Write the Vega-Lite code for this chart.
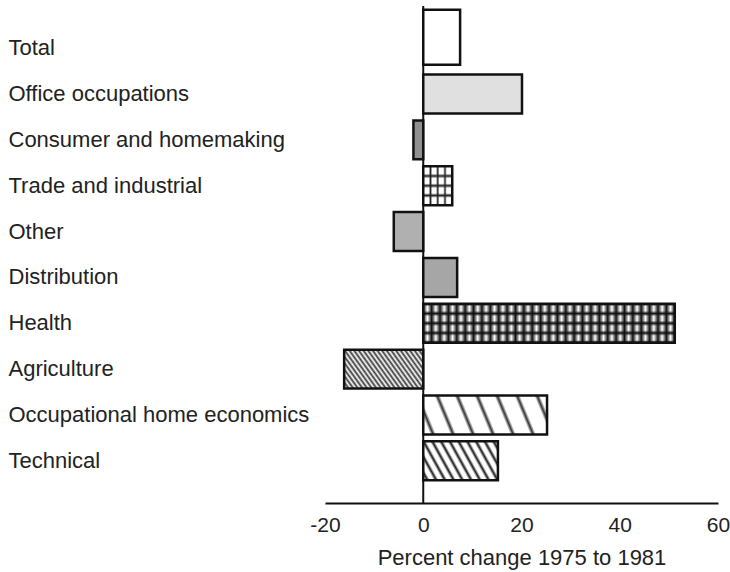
{
"$schema":"https://vega.github.io/schema/vega-lite/v6.json",
"width":393,"height":497,
"autosize":"none",
"padding":{"left":325,"top":6,"right":12,"bottom":69},
"background":"white",
"config":{"view":{"stroke":null},"font":"Liberation Sans"},
"data":{"values":[
{"category":"Total","change":7.5},
{"category":"Office occupations","change":20.1},
{"category":"Consumer and homemaking","change":-2},
{"category":"Trade and industrial","change":5.9},
{"category":"Other","change":-6},
{"category":"Distribution","change":6.9},
{"category":"Health","change":51.2},
{"category":"Agriculture","change":-16.1},
{"category":"Occupational home economics","change":25.2},
{"category":"Technical","change":15.2}
]},
"layer":[
{"transform":[{"filter":"datum.category === 'Total'"}],
 "mark":{"type":"rule","color":"#111","strokeWidth":2},
 "encoding":{"x":{"datum":0,"type":"quantitative","scale":{"domain":[-20,60],"nice":false},
       "axis":{"values":[-20,0,20,40,60],"ticks":false,"grid":false,"domainColor":"#111","domainWidth":2,"labelFontSize":21,"labelColor":"#222","labelPadding":11,"labelExpr":"'' + datum.value","labelFlush":false,"labelOverlap":false,"title":"Percent change 1975 to 1981","titleFontSize":22,"titleFontWeight":"normal","titleColor":"#222","titlePadding":12,"titleFont":"Liberation Sans"}}}},
{"encoding":{
  "y":{"field":"category","type":"nominal","sort":null,"scale":{"domain":["Total","Office occupations","Consumer and homemaking","Trade and industrial","Other","Distribution","Health","Agriculture","Occupational home economics","Technical"],"paddingInner":0.15,"paddingOuter":0.495},
       "axis":{"title":null,"domain":false,"ticks":false,"labelAlign":"left","labelPadding":317,"labelFontSize":22,"labelColor":"#222","labelLimit":400,"labelFont":"Liberation Sans"}},
  "x":{"field":"change","type":"quantitative","scale":{"domain":[-20,60],"nice":false},
       "axis":{"values":[-20,0,20,40,60],"ticks":false,"grid":false,"domainColor":"#111","domainWidth":2,"labelFontSize":21,"labelColor":"#222","labelPadding":11,"labelExpr":"'' + datum.value","labelFlush":false,"labelOverlap":false,"title":"Percent change 1975 to 1981","titleFontSize":22,"titleFontWeight":"normal","titleColor":"#222","titlePadding":12,"titleFont":"Liberation Sans"}}},
 "layer":[
  {"transform":[{"filter":"datum.category !== 'Total'"}],
   "mark":{"type":"bar"},
   "encoding":{"fill":{"field":"category","type":"nominal","legend":null,
     "scale":{"domain":["Office occupations","Consumer and homemaking","Trade and industrial","Other","Distribution","Health","Agriculture","Occupational home economics","Technical"],
              "range":["#e0e0e0","#909090","#ffffff","#b0b0b0","#a6a6a6","#ffffff","#ffffff","#ffffff","#ffffff"]}}}},
  {"transform":[{"filter":"datum.category === 'Technical'"}],
   "mark":{"type":"bar","fill":{"gradient":"linear","x1":-0.267,"y1":0.077,"x2":0.923,"y2":-0.267,"stops":[
     {"offset":0,"color":"#ffffff"},
     {"offset":0.0182,"color":"#ffffff"},{"offset":0.0455,"color":"#1a1a1a"},{"offset":0.0727,"color":"#ffffff"},
     {"offset":0.1091,"color":"#ffffff"},{"offset":0.1364,"color":"#1a1a1a"},{"offset":0.1636,"color":"#ffffff"},
     {"offset":0.2,"color":"#ffffff"},{"offset":0.2273,"color":"#1a1a1a"},{"offset":0.2545,"color":"#ffffff"},
     {"offset":0.2909,"color":"#ffffff"},{"offset":0.3182,"color":"#1a1a1a"},{"offset":0.3455,"color":"#ffffff"},
     {"offset":0.3818,"color":"#ffffff"},{"offset":0.4091,"color":"#1a1a1a"},{"offset":0.4364,"color":"#ffffff"},
     {"offset":0.4727,"color":"#ffffff"},{"offset":0.5,"color":"#1a1a1a"},{"offset":0.5273,"color":"#ffffff"},
     {"offset":0.5636,"color":"#ffffff"},{"offset":0.5909,"color":"#1a1a1a"},{"offset":0.6182,"color":"#ffffff"},
     {"offset":0.6545,"color":"#ffffff"},{"offset":0.6818,"color":"#1a1a1a"},{"offset":0.7091,"color":"#ffffff"},
     {"offset":0.7455,"color":"#ffffff"},{"offset":0.7727,"color":"#1a1a1a"},{"offset":0.8,"color":"#ffffff"},
     {"offset":0.8364,"color":"#ffffff"},{"offset":0.8636,"color":"#1a1a1a"},{"offset":0.8909,"color":"#ffffff"},
     {"offset":0.9273,"color":"#ffffff"},{"offset":0.9545,"color":"#1a1a1a"},{"offset":0.9818,"color":"#ffffff"},
     {"offset":1,"color":"#ffffff"}]}}},
  {"transform":[{"filter":"datum.category === 'Occupational home economics'"}],
   "mark":{"type":"bar","fill":{"gradient":"linear","x1":-0.1283,"y1":0.0167,"x2":0.9833,"y2":-0.1283,"stops":[
     {"offset":0,"color":"#ffffff"},
     {"offset":0.05,"color":"#ffffff"},{"offset":0.0714,"color":"#333333"},{"offset":0.0929,"color":"#ffffff"},
     {"offset":0.1929,"color":"#ffffff"},{"offset":0.2143,"color":"#333333"},{"offset":0.2357,"color":"#ffffff"},
     {"offset":0.3357,"color":"#ffffff"},{"offset":0.3571,"color":"#333333"},{"offset":0.3786,"color":"#ffffff"},
     {"offset":0.4786,"color":"#ffffff"},{"offset":0.5,"color":"#333333"},{"offset":0.5214,"color":"#ffffff"},
     {"offset":0.6214,"color":"#ffffff"},{"offset":0.6429,"color":"#333333"},{"offset":0.6643,"color":"#ffffff"},
     {"offset":0.7643,"color":"#ffffff"},{"offset":0.7857,"color":"#333333"},{"offset":0.8071,"color":"#ffffff"},
     {"offset":0.9071,"color":"#ffffff"},{"offset":0.9286,"color":"#333333"},{"offset":0.95,"color":"#ffffff"},
     {"offset":1,"color":"#ffffff"}]}}},
  {"transform":[{"filter":"datum.category === 'Agriculture'"}],
   "mark":{"type":"bar","fill":{"gradient":"linear","x1":-0.3136,"y1":0.1106,"x2":0.8894,"y2":-0.3136,"stops":[
     {"offset":0,"color":"#3a3a3a"},{"offset":0.0217,"color":"#ffffff"},{"offset":0.0435,"color":"#3a3a3a"},{"offset":0.0652,"color":"#ffffff"},
     {"offset":0.087,"color":"#3a3a3a"},{"offset":0.1087,"color":"#ffffff"},{"offset":0.1304,"color":"#3a3a3a"},{"offset":0.1522,"color":"#ffffff"},
     {"offset":0.1739,"color":"#3a3a3a"},{"offset":0.1957,"color":"#ffffff"},{"offset":0.2174,"color":"#3a3a3a"},{"offset":0.2391,"color":"#ffffff"},
     {"offset":0.2609,"color":"#3a3a3a"},{"offset":0.2826,"color":"#ffffff"},{"offset":0.3043,"color":"#3a3a3a"},{"offset":0.3261,"color":"#ffffff"},
     {"offset":0.3478,"color":"#3a3a3a"},{"offset":0.3696,"color":"#ffffff"},{"offset":0.3913,"color":"#3a3a3a"},{"offset":0.413,"color":"#ffffff"},
     {"offset":0.4348,"color":"#3a3a3a"},{"offset":0.4565,"color":"#ffffff"},{"offset":0.4783,"color":"#3a3a3a"},{"offset":0.5,"color":"#ffffff"},
     {"offset":0.5217,"color":"#3a3a3a"},{"offset":0.5435,"color":"#ffffff"},{"offset":0.5652,"color":"#3a3a3a"},{"offset":0.587,"color":"#ffffff"},
     {"offset":0.6087,"color":"#3a3a3a"},{"offset":0.6304,"color":"#ffffff"},{"offset":0.6522,"color":"#3a3a3a"},{"offset":0.6739,"color":"#ffffff"},
     {"offset":0.6957,"color":"#3a3a3a"},{"offset":0.7174,"color":"#ffffff"},{"offset":0.7391,"color":"#3a3a3a"},{"offset":0.7609,"color":"#ffffff"},
     {"offset":0.7826,"color":"#3a3a3a"},{"offset":0.8043,"color":"#ffffff"},{"offset":0.8261,"color":"#3a3a3a"},{"offset":0.8478,"color":"#ffffff"},
     {"offset":0.8696,"color":"#3a3a3a"},{"offset":0.8913,"color":"#ffffff"},{"offset":0.913,"color":"#3a3a3a"},{"offset":0.9348,"color":"#ffffff"},
     {"offset":0.9565,"color":"#3a3a3a"},{"offset":0.9783,"color":"#ffffff"},{"offset":1,"color":"#3a3a3a"}]}}},
  {"transform":[{"filter":"datum.category === 'Health'"}],
   "mark":{"type":"bar","fill":{"gradient":"linear","x1":0,"y1":0,"x2":1,"y2":0,"stops":[
     {"offset":0,"color":"#111111"},{"offset":0.0167,"color":"#ffffff"},{"offset":0.0333,"color":"#111111"},{"offset":0.05,"color":"#ffffff"},
     {"offset":0.0667,"color":"#111111"},{"offset":0.0833,"color":"#ffffff"},{"offset":0.1,"color":"#111111"},{"offset":0.1167,"color":"#ffffff"},
     {"offset":0.1333,"color":"#111111"},{"offset":0.15,"color":"#ffffff"},{"offset":0.1667,"color":"#111111"},{"offset":0.1833,"color":"#ffffff"},
     {"offset":0.2,"color":"#111111"},{"offset":0.2167,"color":"#ffffff"},{"offset":0.2333,"color":"#111111"},{"offset":0.25,"color":"#ffffff"},
     {"offset":0.2667,"color":"#111111"},{"offset":0.2833,"color":"#ffffff"},{"offset":0.3,"color":"#111111"},{"offset":0.3167,"color":"#ffffff"},
     {"offset":0.3333,"color":"#111111"},{"offset":0.35,"color":"#ffffff"},{"offset":0.3667,"color":"#111111"},{"offset":0.3833,"color":"#ffffff"},
     {"offset":0.4,"color":"#111111"},{"offset":0.4167,"color":"#ffffff"},{"offset":0.4333,"color":"#111111"},{"offset":0.45,"color":"#ffffff"},
     {"offset":0.4667,"color":"#111111"},{"offset":0.4833,"color":"#ffffff"},{"offset":0.5,"color":"#111111"},{"offset":0.5167,"color":"#ffffff"},
     {"offset":0.5333,"color":"#111111"},{"offset":0.55,"color":"#ffffff"},{"offset":0.5667,"color":"#111111"},{"offset":0.5833,"color":"#ffffff"},
     {"offset":0.6,"color":"#111111"},{"offset":0.6167,"color":"#ffffff"},{"offset":0.6333,"color":"#111111"},{"offset":0.65,"color":"#ffffff"},
     {"offset":0.6667,"color":"#111111"},{"offset":0.6833,"color":"#ffffff"},{"offset":0.7,"color":"#111111"},{"offset":0.7167,"color":"#ffffff"},
     {"offset":0.7333,"color":"#111111"},{"offset":0.75,"color":"#ffffff"},{"offset":0.7667,"color":"#111111"},{"offset":0.7833,"color":"#ffffff"},
     {"offset":0.8,"color":"#111111"},{"offset":0.8167,"color":"#ffffff"},{"offset":0.8333,"color":"#111111"},{"offset":0.85,"color":"#ffffff"},
     {"offset":0.8667,"color":"#111111"},{"offset":0.8833,"color":"#ffffff"},{"offset":0.9,"color":"#111111"},{"offset":0.9167,"color":"#ffffff"},
     {"offset":0.9333,"color":"#111111"},{"offset":0.95,"color":"#ffffff"},{"offset":0.9667,"color":"#111111"},{"offset":0.9833,"color":"#ffffff"},
     {"offset":1,"color":"#111111"}]}}},
  {"transform":[{"filter":"datum.category === 'Health'"}],
   "mark":{"type":"bar","fill":{"gradient":"linear","x1":0,"y1":0,"x2":0,"y2":1,"stops":[
     {"offset":0,"color":"rgba(17,17,17,1)"},{"offset":0.07,"color":"rgba(17,17,17,0)"},{"offset":0.18,"color":"rgba(17,17,17,0)"},
     {"offset":0.25,"color":"rgba(17,17,17,1)"},{"offset":0.32,"color":"rgba(17,17,17,0)"},{"offset":0.43,"color":"rgba(17,17,17,0)"},
     {"offset":0.5,"color":"rgba(17,17,17,1)"},{"offset":0.57,"color":"rgba(17,17,17,0)"},{"offset":0.68,"color":"rgba(17,17,17,0)"},
     {"offset":0.75,"color":"rgba(17,17,17,1)"},{"offset":0.82,"color":"rgba(17,17,17,0)"},{"offset":0.93,"color":"rgba(17,17,17,0)"},
     {"offset":1,"color":"rgba(17,17,17,1)"}]}}},
  {"transform":[{"filter":"datum.category === 'Trade and industrial'"}],
   "mark":{"type":"bar","fill":{"gradient":"linear","x1":0,"y1":0,"x2":1,"y2":0,"stops":[
     {"offset":0,"color":"#ffffff"},{"offset":0.19,"color":"#ffffff"},{"offset":0.25,"color":"#222222"},{"offset":0.31,"color":"#ffffff"},
     {"offset":0.44,"color":"#ffffff"},{"offset":0.5,"color":"#222222"},{"offset":0.56,"color":"#ffffff"},
     {"offset":0.69,"color":"#ffffff"},{"offset":0.75,"color":"#222222"},{"offset":0.81,"color":"#ffffff"},{"offset":1,"color":"#ffffff"}]}}},
  {"transform":[{"filter":"datum.category === 'Trade and industrial'"}],
   "mark":{"type":"bar","fill":{"gradient":"linear","x1":0,"y1":0,"x2":0,"y2":1,"stops":[
     {"offset":0,"color":"rgba(34,34,34,0)"},{"offset":0.19,"color":"rgba(34,34,34,0)"},{"offset":0.25,"color":"rgba(34,34,34,1)"},{"offset":0.31,"color":"rgba(34,34,34,0)"},
     {"offset":0.44,"color":"rgba(34,34,34,0)"},{"offset":0.5,"color":"rgba(34,34,34,1)"},{"offset":0.56,"color":"rgba(34,34,34,0)"},
     {"offset":0.69,"color":"rgba(34,34,34,0)"},{"offset":0.75,"color":"rgba(34,34,34,1)"},{"offset":0.81,"color":"rgba(34,34,34,0)"},{"offset":1,"color":"rgba(34,34,34,0)"}]}}},
  {"transform":[{"filter":"datum.category !== 'Total'"}],
   "mark":{"type":"bar","fill":"transparent","stroke":"#111","strokeWidth":2.5}},
  {"transform":[{"filter":"datum.category === 'Total'"}],
   "mark":{"type":"bar","fill":"white","stroke":"#111","strokeWidth":2.5,"size":55,"yOffset":-11}}
 ]}
]}
